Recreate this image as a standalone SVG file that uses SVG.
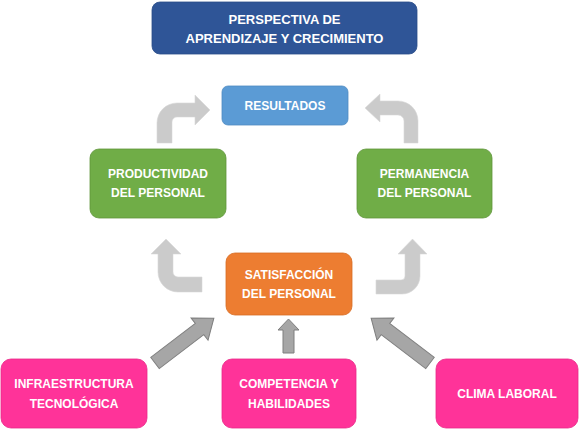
<svg xmlns="http://www.w3.org/2000/svg" width="582" height="432" viewBox="0 0 582 432">
<style>
.t{font-family:"Liberation Sans",Arial,sans-serif;font-weight:bold;font-size:12px;fill:#ffffff;text-anchor:middle}
.big{font-size:13px}
.bend{fill:#CBCBCB;stroke:#D9D9D9;stroke-width:0.6}
.str{fill:#A6A6A6;stroke:#7F7F7F;stroke-width:1}
.blue{fill:#2F5597;stroke:#2A4C88;stroke-width:0.8}
.lblue{fill:#5B9BD5;stroke:#4F8BC2;stroke-width:0.8}
.green{fill:#70AD47;stroke:#5F963B;stroke-width:0.8}
.orange{fill:#ED7D31;stroke:#D76D25;stroke-width:0.8}
.pink{fill:#FF3399;stroke:#E82A88;stroke-width:0.8}
</style>
<rect width="582" height="432" fill="#ffffff"/>
<g id="connectors">
<path class="bend" d="M157,143 L157,123 A20,20 0 0 1 177,103 L195,103 L195,95 L210,110 L195,125 L195,117 L177,117 A5,5 0 0 0 172,122 L172,143 Z"/>
<path class="bend" d="M418,143 L418,121 A20,20 0 0 0 398,101 L380,101 L380,94 L365,108 L380,122 L380,115 L398,115 A6,6 0 0 1 404,121 L404,143 Z"/>
<path class="bend" d="M202,292 L178,292 A20,20 0 0 1 158,272 L158,254 L151,254 L166,239 L181,254 L173,254 L173,272 A5,5 0 0 0 178,277 L202,277 Z"/>
<path class="bend" d="M376,280 L401,280 A4,4 0 0 0 405,276 L405,254 L398,254 L412.5,239 L427,254 L420,254 L420,276 A18,18 0 0 1 402,294 L376,294 Z"/>
<polygon class="str" transform="translate(155,363) rotate(-37.3)" points="0,-7 56,-7 56,-14 74,0 56,14 56,7 0,7"/>
<polygon class="str" points="283,353 283,330 278,330 288.5,319 299,330 294,330 294,353"/>
<polygon class="str" transform="translate(430,363) rotate(-142.7)" points="0,-7 56,-7 56,-14 74,0 56,14 56,7 0,7"/>
</g>
<g id="title">
<rect class="blue" x="152" y="2" width="265" height="52" rx="8"/>
<text class="t big" x="284.5" y="24">PERSPECTIVA DE</text>
<text class="t big" x="284.5" y="43">APRENDIZAJE Y CRECIMIENTO</text>
</g>
<g id="resultados">
<rect class="lblue" x="222" y="86" width="126" height="39" rx="6"/>
<text class="t" x="285" y="110">RESULTADOS</text>
</g>
<g id="productividad">
<rect class="green" x="90" y="149" width="136" height="69" rx="9"/>
<text class="t" x="158" y="178">PRODUCTIVIDAD</text>
<text class="t" x="158" y="197">DEL PERSONAL</text>
</g>
<g id="permanencia">
<rect class="green" x="357" y="149" width="135" height="69" rx="9"/>
<text class="t" x="424.5" y="178">PERMANENCIA</text>
<text class="t" x="424.5" y="197">DEL PERSONAL</text>
</g>
<g id="satisfaccion">
<rect class="orange" x="226" y="253" width="126" height="62" rx="9"/>
<text class="t" x="289" y="279">SATISFACCIÓN</text>
<text class="t" x="289" y="298">DEL PERSONAL</text>
</g>
<g id="infraestructura">
<rect class="pink" x="1" y="359" width="146" height="69" rx="10"/>
<text class="t" x="74" y="388">INFRAESTRUCTURA</text>
<text class="t" x="74" y="408">TECNOLÓGICA</text>
</g>
<g id="competencia">
<rect class="pink" x="222" y="359" width="134" height="69" rx="10"/>
<text class="t" x="289" y="388">COMPETENCIA Y</text>
<text class="t" x="289" y="408">HABILIDADES</text>
</g>
<g id="clima">
<rect class="pink" x="436" y="359" width="142" height="69" rx="10"/>
<text class="t" x="507" y="398">CLIMA LABORAL</text>
</g>
</svg>
